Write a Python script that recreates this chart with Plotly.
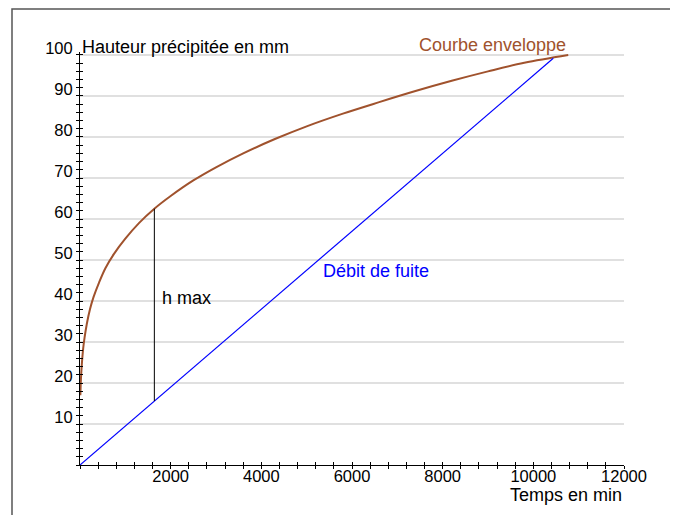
import plotly.graph_objects as go

# ---- data ----
courbe_t = [8, 20, 40, 70, 100, 150, 220, 300, 420, 560, 750, 1000, 1300, 1640, 2000,
            2500, 3000, 3600, 4300, 5000, 5800, 6600, 7400, 8200, 9000, 9800, 10770]
courbe_h = [17, 20.8, 24.5, 28.4, 31, 34.4, 38, 41, 44.5, 48, 51.5, 55.2, 59, 62.5, 65.6,
            69.4, 72.6, 76, 79.5, 82.6, 85.7, 88.5, 91.2, 93.7, 96, 98.1, 100]
fuite_t = [0, 10440]
fuite_h = [0, 99.2]
hmax_t = [1640, 1640]
hmax_h = [15.6, 62.5]
x_ticks = [2000, 4000, 6000, 8000, 10000, 12000]
y_ticks = [10, 20, 30, 40, 50, 60, 70, 80, 90, 100]

BROWN = "#A0522D"
BLUE = "#0000FF"
FONT = "Liberation Sans, Arial, Helvetica, sans-serif"

fig = go.Figure()
fig.add_trace(go.Scatter(x=courbe_t, y=courbe_h, mode="lines",
                         line=dict(color=BROWN, width=2, shape="spline", smoothing=1.0),
                         showlegend=False, hoverinfo="skip"))
fig.add_trace(go.Scatter(x=fuite_t, y=fuite_h, mode="lines", line=dict(color=BLUE, width=1.2),
                         showlegend=False, hoverinfo="skip"))
fig.add_trace(go.Scatter(x=hmax_t, y=hmax_h, mode="lines", line=dict(color="black", width=1),
                         showlegend=False, hoverinfo="skip"))
# dummy trace to activate overlay axes (for crossing ticks)
fig.add_trace(go.Scatter(x=[None], y=[None], xaxis="x2", yaxis="y2", showlegend=False, hoverinfo="skip"))

XR = [0, 12000]
YR = [0, 100.73]
tickfont = dict(family=FONT, size=16.5, color="black")

fig.update_layout(
    width=670, height=507,
    margin=dict(l=72, r=54, t=44, b=50, pad=0),
    paper_bgcolor="white", plot_bgcolor="white",
    font=dict(family=FONT, size=17, color="black"),
    xaxis=dict(range=XR, showgrid=False, zeroline=False, showline=True, linecolor="black", linewidth=1,
               tickmode="array", tickvals=x_ticks, ticktext=[str(v) for v in x_ticks],
               ticks="inside", ticklen=3, tickwidth=1, tickcolor="black", tickfont=tickfont,
               ticklabelstandoff=-4,
               minor=dict(tickmode="linear", tick0=0, dtick=400, ticks="inside", ticklen=3,
                          tickwidth=1, tickcolor="black", showgrid=False)),
    yaxis=dict(range=YR, showgrid=True, gridcolor="#e0e0e0", gridwidth=1.5, zeroline=False,
               showline=True, linecolor="black", linewidth=1,
               tickmode="array", tickvals=y_ticks, ticktext=[str(v) for v in y_ticks],
               ticks="inside", ticklen=3, tickwidth=1, tickcolor="black", tickfont=tickfont,
               ticklabelshift=-7, ticklabelstandoff=3,
               minor=dict(tickmode="linear", tick0=0, dtick=2, ticks="inside", ticklen=3,
                          tickwidth=1, tickcolor="black", showgrid=False)),
    xaxis2=dict(range=XR, overlaying="x", anchor="y", side="bottom", showgrid=False, zeroline=False,
                showline=False, showticklabels=False,
                tickmode="array", tickvals=x_ticks, ticks="outside", ticklen=3, tickwidth=1, tickcolor="black",
                minor=dict(tickmode="linear", tick0=0, dtick=400, ticks="outside", ticklen=3,
                           tickwidth=1, tickcolor="black", showgrid=False)),
    yaxis2=dict(range=YR, overlaying="y", anchor="x", side="left", showgrid=False, zeroline=False,
                showline=False, showticklabels=False,
                tickmode="array", tickvals=y_ticks, ticks="outside", ticklen=3, tickwidth=1, tickcolor="black",
                minor=dict(tickmode="linear", tick0=0, dtick=2, ticks="outside", ticklen=3,
                           tickwidth=1, tickcolor="black", showgrid=False)),
)

# outer frame (partially visible, as in the reference)
fig.add_shape(type="rect", xref="paper", yref="paper", x0=-0.125, x1=1.2, y0=-0.2, y1=1.104,
              line=dict(color="#555555", width=1.5), fillcolor="rgba(0,0,0,0)", layer="below")

fig.add_annotation(text="Hauteur précipitée en mm", xref="paper", yref="paper", x=0, y=1.012, xanchor="left",
                   yanchor="middle", showarrow=False, font=dict(family=FONT, size=18, color="black"))
fig.add_annotation(text="Courbe enveloppe", xref="x", yref="paper", x=10770, y=1.017, xanchor="right",
                   yanchor="middle", showarrow=False, font=dict(family=FONT, size=18, color=BROWN))
fig.add_annotation(text="Débit de fuite", xref="x", yref="y", x=6540, y=47.3, xanchor="center",
                   yanchor="middle", showarrow=False, font=dict(family=FONT, size=18, color=BLUE))
fig.add_annotation(text="h max", xref="x", yref="y", x=1765, y=40.7, xanchor="left",
                   yanchor="middle", showarrow=False, font=dict(family=FONT, size=18, color="black"))
fig.add_annotation(text="Temps en min", xref="paper", yref="paper", x=1, y=-0.0726, xanchor="right",
                   yanchor="middle", showarrow=False, font=dict(family=FONT, size=18, color="black"))

fig.write_html("out.html")
